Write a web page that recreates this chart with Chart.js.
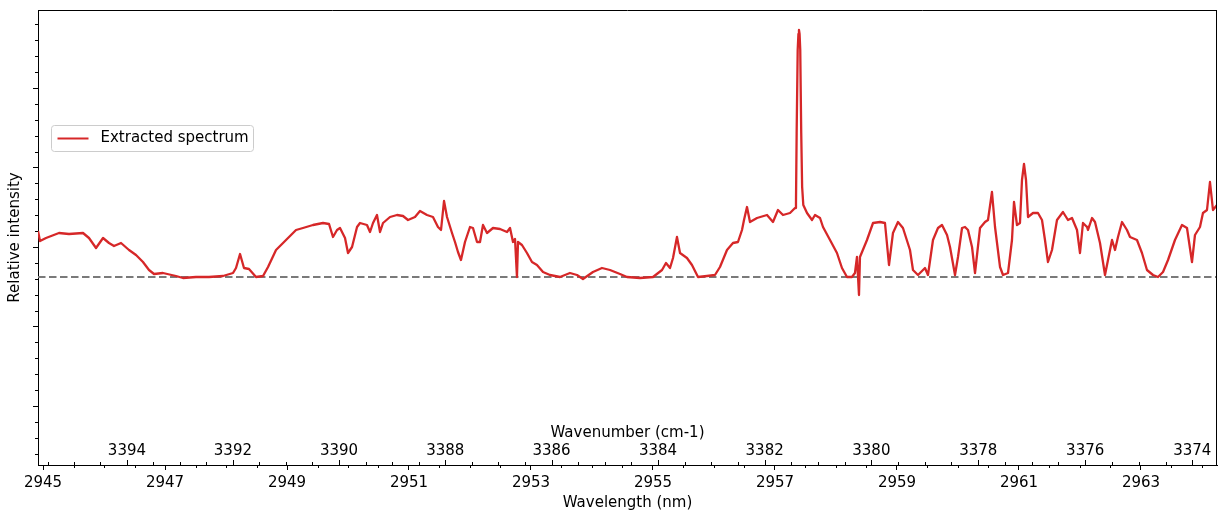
<!DOCTYPE html>
<html>
<head>
<meta charset="utf-8">
<script src="https://cdn.jsdelivr.net/npm/chart.js@4/dist/chart.umd.min.js"></script>
<style>
  html, body { margin: 0; padding: 0; background: #ffffff; }
  #wrap { width: 1218px; height: 512px; }
</style>
</head>
<body>
<div id="wrap"><canvas id="c" width="1218" height="512"></canvas></div>
<script>
// Extracted spectrum: wavelength (nm) and relative intensity (baseline = 0)
const wavelength = [
  2944.918, 2944.951, 2945.049, 2945.262, 2945.426, 2945.656, 2945.754, 2945.869, 2945.984, 2946.082,
  2946.164, 2946.279, 2946.410, 2946.525, 2946.639, 2946.738, 2946.820, 2946.967, 2947.180, 2947.295,
  2947.508, 2947.721, 2947.951, 2948.115, 2948.164, 2948.230, 2948.295, 2948.377, 2948.492, 2948.607,
  2948.689, 2948.820, 2948.984, 2949.148, 2949.262, 2949.426, 2949.590, 2949.689, 2949.754, 2949.820,
  2949.869, 2949.951, 2950.000, 2950.066, 2950.148, 2950.197, 2950.311, 2950.361, 2950.410, 2950.475,
  2950.525, 2950.574, 2950.689, 2950.803, 2950.902, 2950.984, 2951.098, 2951.180, 2951.295, 2951.393,
  2951.475, 2951.525, 2951.574, 2951.623, 2951.705, 2951.754, 2951.803, 2951.852, 2951.918, 2952.000,
  2952.049, 2952.115, 2952.164, 2952.213, 2952.279, 2952.377, 2952.492, 2952.607, 2952.656, 2952.705,
  2952.738, 2952.770, 2952.787, 2952.852, 2952.934, 2953.016, 2953.098, 2953.197, 2953.311, 2953.475,
  2953.639, 2953.754, 2953.852, 2954.016, 2954.164, 2954.295, 2954.459, 2954.574, 2954.787, 2955.000,
  2955.148, 2955.213, 2955.279, 2955.328, 2955.393, 2955.443, 2955.557, 2955.639, 2955.738, 2955.885,
  2956.016, 2956.098, 2956.213, 2956.311, 2956.393, 2956.459, 2956.492, 2956.541, 2956.590, 2956.705,
  2956.869, 2956.967, 2957.049, 2957.131, 2957.246, 2957.328, 2957.344, 2957.355, 2957.372, 2957.384,
  2957.393, 2957.403, 2957.414, 2957.430, 2957.445, 2957.464, 2957.525, 2957.607, 2957.656, 2957.738,
  2957.787, 2957.902, 2958.016, 2958.098, 2958.180, 2958.262, 2958.311, 2958.344, 2958.377, 2958.393,
  2958.508, 2958.607, 2958.721, 2958.803, 2958.869, 2958.934, 2959.016, 2959.098, 2959.213, 2959.262,
  2959.344, 2959.459, 2959.508, 2959.590, 2959.672, 2959.738, 2959.820, 2959.869, 2959.951, 2960.000,
  2960.066, 2960.115, 2960.164, 2960.230, 2960.279, 2960.361, 2960.443, 2960.492, 2960.557, 2960.607,
  2960.689, 2960.738, 2960.820, 2960.885, 2960.918, 2960.967, 2961.016, 2961.049, 2961.082, 2961.115,
  2961.148, 2961.230, 2961.311, 2961.377, 2961.426, 2961.475, 2961.541, 2961.623, 2961.721, 2961.803,
  2961.869, 2961.951, 2962.000, 2962.049, 2962.115, 2962.131, 2962.197, 2962.246, 2962.328, 2962.410,
  2962.459, 2962.525, 2962.574, 2962.623, 2962.689, 2962.770, 2962.820, 2962.934, 2963.016, 2963.098,
  2963.197, 2963.279, 2963.361, 2963.443, 2963.557, 2963.672, 2963.754, 2963.836, 2963.885, 2963.967,
  2964.016, 2964.082, 2964.131, 2964.180, 2964.246
];

const intensity = [
  0.46, 0.36, 0.39, 0.44, 0.43, 0.44, 0.39, 0.29, 0.39, 0.34,
  0.31, 0.34, 0.27, 0.22, 0.15, 0.07, 0.03, 0.04, 0.01, -0.01,
  0.00, 0.00, 0.01, 0.04, 0.09, 0.23, 0.09, 0.08, 0.00, 0.01,
  0.10, 0.27, 0.37, 0.47, 0.49, 0.52, 0.54, 0.53, 0.40, 0.47,
  0.49, 0.39, 0.24, 0.30, 0.50, 0.54, 0.52, 0.45, 0.54, 0.62,
  0.45, 0.54, 0.60, 0.62, 0.61, 0.57, 0.60, 0.66, 0.62, 0.60,
  0.50, 0.47, 0.76, 0.60, 0.44, 0.35, 0.25, 0.17, 0.35, 0.50,
  0.49, 0.35, 0.35, 0.52, 0.44, 0.49, 0.48, 0.45, 0.49, 0.35,
  0.38, 0.00, 0.35, 0.32, 0.24, 0.15, 0.12, 0.05, 0.02, 0.00,
  0.04, 0.02, -0.02, 0.05, 0.09, 0.07, 0.03, 0.00, -0.01, 0.00,
  0.07, 0.14, 0.09, 0.19, 0.40, 0.24, 0.19, 0.12, 0.00, 0.01,
  0.02, 0.10, 0.27, 0.34, 0.35, 0.47, 0.57, 0.70, 0.55, 0.59,
  0.62, 0.55, 0.67, 0.62, 0.64, 0.69, 0.75, 1.44, 2.27, 2.43,
  2.47, 2.43, 2.27, 1.44, 0.90, 0.72, 0.64, 0.57, 0.62, 0.59,
  0.50, 0.37, 0.24, 0.09, 0.00, 0.00, 0.04, 0.20, -0.18, 0.20,
  0.37, 0.54, 0.55, 0.54, 0.12, 0.44, 0.55, 0.49, 0.27, 0.07,
  0.02, 0.09, 0.02, 0.37, 0.49, 0.52, 0.42, 0.30, 0.02, 0.20,
  0.49, 0.50, 0.47, 0.30, 0.04, 0.49, 0.55, 0.57, 0.85, 0.50,
  0.10, 0.02, 0.04, 0.37, 0.75, 0.52, 0.54, 0.97, 1.13, 0.97,
  0.60, 0.64, 0.64, 0.57, 0.37, 0.15, 0.27, 0.57, 0.65, 0.57,
  0.59, 0.47, 0.24, 0.54, 0.50, 0.47, 0.59, 0.55, 0.34, 0.02,
  0.17, 0.37, 0.27, 0.40, 0.55, 0.47, 0.40, 0.37, 0.24, 0.07,
  0.02, 0.00, 0.05, 0.17, 0.37, 0.52, 0.49, 0.15, 0.42, 0.50,
  0.64, 0.67, 0.95, 0.67, 0.72
];

const baselineLevel = 0;

// Axis ranges and tick positions
const wavelengthRange = [2944.918, 2964.246];
const intensityRange = [-1.88, 2.67];
const wavelengthTicks = [2945, 2947, 2949, 2951, 2953, 2955, 2957, 2959, 2961, 2963];
const wavenumberTicks = [3394, 3392, 3390, 3388, 3386, 3384, 3382, 3380, 3378, 3376, 3374];
const intensityTicks = [-1.29, -0.495, 0.30, 1.095, 1.89];

const RED = '#d62728';
const FONT = 'DejaVu Sans';
const FONT_SIZE = 15;

Chart.defaults.font.family = FONT;
Chart.defaults.font.size = FONT_SIZE;
Chart.defaults.color = '#000000';

// Minor ticks, the top/right frame, the wavenumber (cm-1) scale and the legend
const axisDecor = {
  id: 'axisDecor',
  afterDraw(chart) {
    const { ctx, chartArea: a, scales: { x, y } } = chart;
    ctx.save();
    ctx.strokeStyle = '#000000';
    ctx.lineWidth = 1;

    // frame on top and right
    ctx.beginPath();
    ctx.moveTo(a.left, Math.round(a.top) + 0.5);
    ctx.lineTo(a.right, Math.round(a.top) + 0.5);
    ctx.moveTo(Math.round(a.right) - 0.5, a.top);
    ctx.lineTo(Math.round(a.right) - 0.5, a.bottom);
    ctx.stroke();

    // wavelength minor ticks (0.5 nm)
    ctx.beginPath();
    for (let v = Math.ceil(x.min * 2) / 2; v <= x.max; v += 0.5) {
      if (wavelengthTicks.includes(v)) continue;
      const px = Math.round(x.getPixelForValue(v)) + 0.5;
      ctx.moveTo(px, a.bottom);
      ctx.lineTo(px, a.bottom + 3);
    }
    // intensity minor ticks
    const step = intensityTicks[1] - intensityTicks[0];
    for (let k = -10; k <= 40; k++) {
      const v = intensityTicks[0] + k * step / 5;
      if (v < y.min || v > y.max || k % 5 === 0) continue;
      const py = Math.round(y.getPixelForValue(v)) + 0.5;
      ctx.moveTo(a.left - 3, py);
      ctx.lineTo(a.left, py);
    }
    ctx.stroke();

    // wavenumber scale drawn inside the plot along the bottom spine
    const wnMin = 1e7 / x.max, wnMax = 1e7 / x.min;
    ctx.beginPath();
    for (let wn = Math.ceil(wnMin * 2) / 2; wn <= wnMax; wn += 0.5) {
      const px = Math.round(x.getPixelForValue(1e7 / wn)) + 0.5;
      const len = wavenumberTicks.includes(wn) ? 5 : 3;
      ctx.moveTo(px, a.bottom);
      ctx.lineTo(px, a.bottom - len);
    }
    ctx.stroke();
    ctx.fillStyle = '#000000';
    ctx.font = FONT_SIZE + 'px "' + FONT + '"';
    ctx.textAlign = 'center';
    ctx.textBaseline = 'middle';
    wavenumberTicks.forEach(wn => {
      ctx.fillText(String(wn), x.getPixelForValue(1e7 / wn), a.bottom - 14);
    });
    ctx.fillText('Wavenumber (cm-1)', (a.left + a.right) / 2, a.bottom - 32);

    // legend
    const ds = chart.data.datasets[0];
    const lx = a.left + 13.5, ly = a.top + 115.5, lw = 202, lh = 26;
    ctx.beginPath();
    ctx.roundRect(lx, ly, lw, lh, 3);
    ctx.fillStyle = 'rgba(255,255,255,0.8)';
    ctx.fill();
    ctx.strokeStyle = '#cccccc';
    ctx.stroke();
    ctx.beginPath();
    ctx.strokeStyle = ds.borderColor;
    ctx.lineWidth = 2;
    ctx.moveTo(lx + 6, ly + lh / 2);
    ctx.lineTo(lx + 37, ly + lh / 2);
    ctx.stroke();
    ctx.fillStyle = '#000000';
    ctx.textAlign = 'left';
    ctx.fillText(ds.label, lx + 49, ly + lh / 2);
    ctx.restore();
  }
};

const spectrumPoints = wavelength.map((w, i) => ({ x: w, y: intensity[i] }));
const baselinePoints = [
  { x: wavelengthRange[0], y: baselineLevel },
  { x: wavelengthRange[1], y: baselineLevel }
];

new Chart(document.getElementById('c'), {
  type: 'line',
  data: {
    datasets: [
      {
        label: 'Extracted spectrum',
        data: spectrumPoints,
        borderColor: RED,
        borderWidth: 2.3,
        borderJoinStyle: 'round',
        pointRadius: 0,
        tension: 0,
        fill: false
      },
      {
        label: 'Baseline',
        data: baselinePoints,
        borderColor: '#7a7a7a',
        borderWidth: 2,
        borderDash: [7.5, 3.5],
        pointRadius: 0,
        fill: false
      }
    ]
  },
  options: {
    responsive: false,
    animation: false,
    devicePixelRatio: 1,
    layout: { padding: { top: 10, right: 1, left: 0, bottom: 0 } },
    plugins: { legend: { display: false }, tooltip: { enabled: false } },
    scales: {
      x: {
        type: 'linear',
        min: wavelengthRange[0],
        max: wavelengthRange[1],
        afterBuildTicks: s => { s.ticks = wavelengthTicks.map(v => ({ value: v })); },
        afterFit: s => { s.height = 47; },
        grid: { drawOnChartArea: false, drawTicks: true, tickLength: 5, tickColor: '#000000', tickWidth: 1 },
        border: { display: true, color: '#000000', width: 1 },
        ticks: { color: '#000000', padding: 4, autoSkip: false, maxRotation: 0, minRotation: 0,
                 callback: v => String(v) },
        title: { display: true, text: 'Wavelength (nm)', color: '#000000', padding: { top: 0, bottom: 0 } }
      },
      y: {
        type: 'linear',
        min: intensityRange[0],
        max: intensityRange[1],
        afterBuildTicks: s => { s.ticks = intensityTicks.map(v => ({ value: v })); },
        afterFit: s => { s.width = 38; },
        grid: { drawOnChartArea: false, drawTicks: true, tickLength: 5, tickColor: '#000000', tickWidth: 1 },
        border: { display: true, color: '#000000', width: 1 },
        ticks: { display: false },
        title: { display: true, text: 'Relative intensity', color: '#000000', padding: { top: 6, bottom: 0 } }
      }
    }
  },
  plugins: [axisDecor]
});
</script>
</body>
</html>
